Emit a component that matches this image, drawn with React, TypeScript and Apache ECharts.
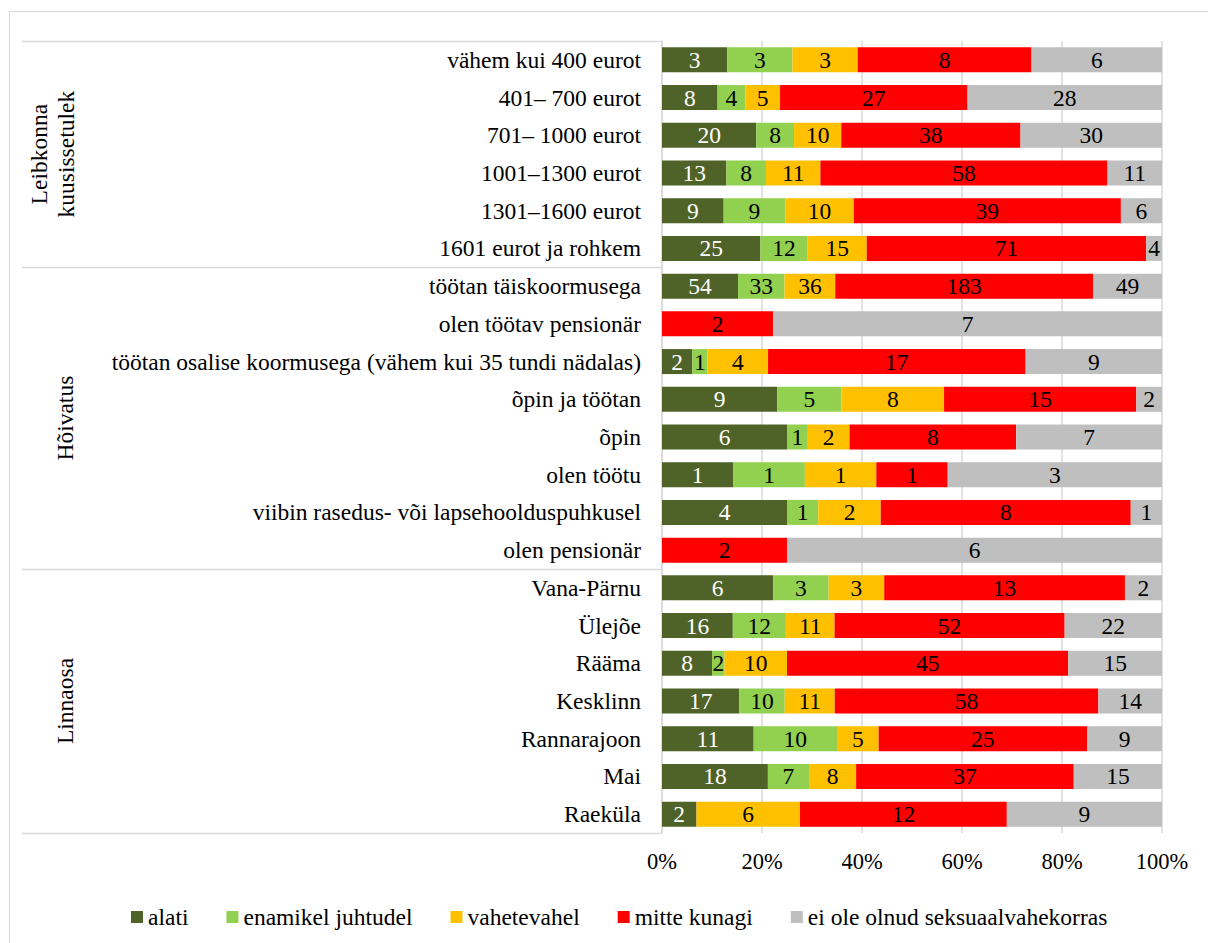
import React, { useEffect, useRef } from "react";
import * as echarts from "echarts";

const categories = [
  "vähem kui 400 eurot",
  "401– 700 eurot",
  "701– 1000 eurot",
  "1001–1300 eurot",
  "1301–1600 eurot",
  "1601 eurot ja rohkem",
  "töötan täiskoormusega",
  "olen töötav pensionär",
  "töötan osalise koormusega (vähem kui 35 tundi nädalas)",
  "õpin ja töötan",
  "õpin",
  "olen töötu",
  "viibin rasedus- või lapsehoolduspuhkusel",
  "olen pensionär",
  "Vana-Pärnu",
  "Ülejõe",
  "Rääma",
  "Kesklinn",
  "Rannarajoon",
  "Mai",
  "Raeküla",
];

const groupNames = ["Leibkonna\nkuusissetulek", "Hõivatus", "Linnaosa"];
const groupSizes = [6, 8, 7];

const seriesNames = [
  "alati",
  "enamikel juhtudel",
  "vahetevahel",
  "mitte kunagi",
  "ei ole olnud seksuaalvahekorras",
];

const alati = [3, 8, 20, 13, 9, 25, 54, 0, 2, 9, 6, 1, 4, 0, 6, 16, 8, 17, 11, 18, 2];
const enamikel = [3, 4, 8, 8, 9, 12, 33, 0, 1, 5, 1, 1, 1, 0, 3, 12, 2, 10, 10, 7, 0];
const vahetevahel = [3, 5, 10, 11, 10, 15, 36, 0, 4, 8, 2, 1, 2, 0, 3, 11, 10, 11, 5, 8, 6];
const mitteKunagi = [8, 27, 38, 58, 39, 71, 183, 2, 17, 15, 8, 1, 8, 2, 13, 52, 45, 58, 25, 37, 12];
const eiOle = [6, 28, 30, 11, 6, 4, 49, 7, 9, 2, 7, 3, 1, 6, 2, 22, 15, 14, 9, 15, 9];

const xTicks = [0, 0.2, 0.4, 0.6, 0.8, 1];

const colors = ["#4f6228", "#92d050", "#ffc000", "#ff0000", "#bfbfbf"];
const labelColors = ["#ffffff", "#000000", "#000000", "#000000", "#000000"];

const FONT = "Liberation Serif";

export default function App() {
  const ref = useRef<HTMLDivElement>(null);

  useEffect(() => {
    document.body.style.margin = "0";
    if (!ref.current) return;
    const chart = echarts.init(ref.current, null, { renderer: "svg" });

    const H = 943;
    const gridLeft = 662;
    const gridRight = 46;
    const gridTop = 41;
    const gridBottom = 110;
    const plotH = H - gridTop - gridBottom;
    const catH = plotH / categories.length;

    const all = [alati, enamikel, vahetevahel, mitteKunagi, eiOle];
    const totals = categories.map((_, i) => all.reduce((s, arr) => s + arr[i], 0));

    const series = all.map((arr, si) => ({
      name: seriesNames[si],
      type: "bar",
      stack: "total",
      barWidth: 25,
      itemStyle: { color: colors[si] },
      label: {
        show: true,
        position: "inside",
        color: labelColors[si],
        fontFamily: FONT,
        fontSize: 23.5,
        formatter: (p: any) => {
          const v = arr[p.dataIndex];
          return v > 0 ? String(v) : "";
        },
      },
      data: arr.map((v, i) => v / totals[i]),
    }));

    const graphics: any[] = [
      {
        type: "rect",
        shape: { x: 9.5, y: 11.5, width: 1400, height: 1200 },
        style: { fill: "none", stroke: "#d9d9d9", lineWidth: 1 },
        silent: true,
      },
    ];
    let start = 0;
    const boundaries = [0];
    groupSizes.forEach((n) => {
      start += n;
      boundaries.push(start);
    });
    boundaries.forEach((b) => {
      const y = Math.round(gridTop + b * catH) + 0.5;
      graphics.push({
        type: "line",
        shape: { x1: 22, y1: y, x2: gridLeft, y2: y },
        style: { stroke: "#d9d9d9", lineWidth: 1.5 },
        silent: true,
      });
    });
    groupNames.forEach((name, gi) => {
      const cy = gridTop + ((boundaries[gi] + boundaries[gi + 1]) / 2) * catH;
      const multi = name.includes("\n");
      graphics.push({
        type: "text",
        x: multi ? 52 : 65,
        y: cy,
        rotation: Math.PI / 2,
        style: {
          text: name,
          fontFamily: FONT,
          fontSize: 23.5,
          fill: "#000",
          align: "center",
          verticalAlign: "middle",
          lineHeight: 27,
        },
        silent: true,
      });
    });

    chart.setOption({
      animation: false,
      backgroundColor: "#ffffff",
      textStyle: { fontFamily: FONT },
      grid: {
        left: gridLeft,
        right: gridRight,
        top: gridTop,
        bottom: gridBottom,
        containLabel: false,
      },
      legend: {
        left: 126,
        top: 900,
        itemWidth: 12,
        itemHeight: 12,
        itemGap: 38,
        icon: "rect",
        textStyle: { fontFamily: FONT, fontSize: 23.5, color: "#000" },
        data: seriesNames,
      },
      xAxis: {
        type: "value",
        min: 0,
        max: 1,
        interval: 0.2,
        axisLine: { show: false },
        axisTick: { show: false },
        splitLine: { show: true, lineStyle: { color: "#d9d9d9", width: 1.5 } },
        axisLabel: {
          fontFamily: FONT,
          fontSize: 22.5,
          color: "#000",
          margin: 17,
          formatter: (v: number) => {
            const t = xTicks.find((x) => Math.abs(x - v) < 1e-9);
            return t !== undefined ? Math.round(t * 100) + "%" : "";
          },
        },
      },
      yAxis: {
        type: "category",
        inverse: true,
        data: categories,
        axisTick: { show: false },
        axisLine: { show: true, lineStyle: { color: "#d9d9d9", width: 1.5 } },
        axisLabel: {
          fontFamily: FONT,
          fontSize: 23.5,
          color: "#000",
          margin: 21,
        },
      },
      graphic: graphics,
      series,
    });

    return () => chart.dispose();
  }, []);

  return <div ref={ref} style={{ width: 1208, height: 943 }} />;
}
